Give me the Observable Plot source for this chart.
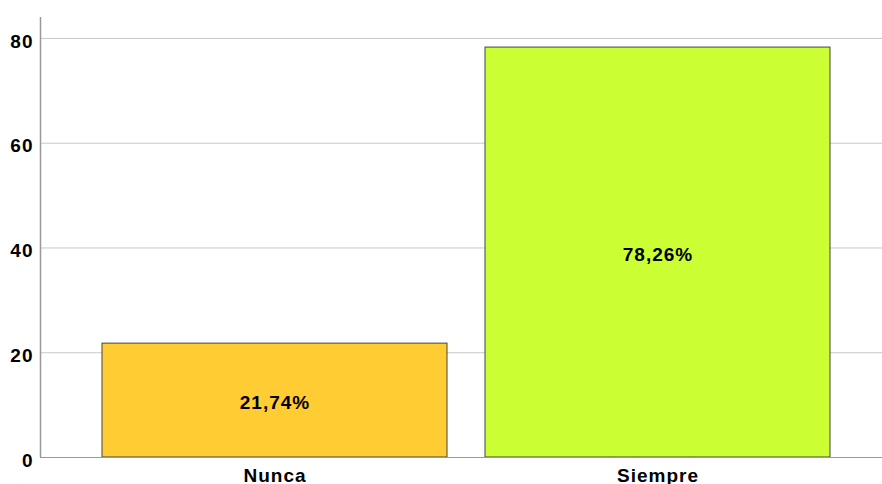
<!DOCTYPE html>
<html>
<head>
<meta charset="utf-8">
<script src="https://cdn.jsdelivr.net/npm/d3@7"></script>
<script src="https://cdn.jsdelivr.net/npm/@observablehq/plot@0.6"></script>
<style>
  html, body { margin: 0; padding: 0; background: #fff; }
  svg { display: block; }
  svg text { letter-spacing: 1px; }
</style>
</head>
<body>
<div id="chart"></div>
<script>
const categories = ["Nunca", "Siempre"];
const values = [21.74, 78.26];
const labels = ["21,74%", "78,26%"];
const colors = ["#FFCC33", "#CCFF33"];
const yTicks = [0, 20, 40, 60, 80];

const data = categories.map((c, i) => ({cat: c, value: values[i], label: labels[i]}));

const chart = Plot.plot({
  width: 882,
  height: 484,
  marginTop: 17,
  marginBottom: 27,
  marginLeft: 40,
  marginRight: 0,
  style: {fontFamily: "Liberation Sans, Arial, sans-serif", background: "#fff"},
  x: {domain: categories, range: [40, 892], paddingInner: 0.1, paddingOuter: 0.162, label: null},
  y: {domain: [0, 84], label: null},
  color: {domain: categories, range: colors},
  marks: [
    Plot.gridY(yTicks, {stroke: "#c8c8c8", strokeOpacity: 1, strokeWidth: 1}),
    Plot.barY(data, {x: "cat", y: "value", fill: "cat", stroke: "#444", strokeWidth: 1}),
    Plot.text(data, {x: "cat", y: d => d.value / 2, text: "label", dy: 2, fontSize: 19, fontWeight: "bold", fill: "#000"}),
    Plot.ruleY([0], {stroke: "#999", strokeWidth: 1}),
    Plot.axisY(yTicks, {tickSize: 0, tickPadding: 7, dy: 3, fontSize: 19, fontWeight: "bold", fill: "#000", label: null}),
    Plot.axisX({tickSize: 0, tickPadding: 11, fontSize: 19, fontWeight: "bold", fill: "#000", label: null})
  ]
});

const svg = d3.select(chart);
svg.append("line")
  .attr("x1", 40.5).attr("x2", 40.5)
  .attr("y1", 17).attr("y2", 457)
  .attr("stroke", "#999").attr("stroke-width", 1.5);

document.getElementById("chart").appendChild(chart);
</script>
</body>
</html>
